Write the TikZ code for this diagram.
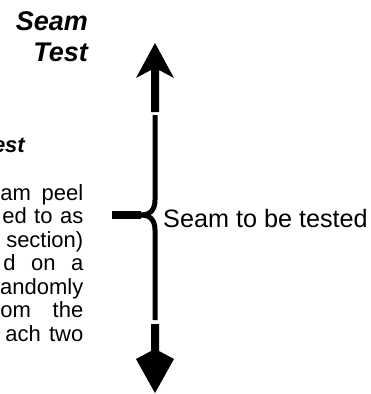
\documentclass[tikz,border=0pt]{standalone}
\usepackage{fontspec}
\setmainfont{Liberation Sans}
\begin{document}
\begin{tikzpicture}[x=1pt,y=-1pt,
  titletext/.style={font=\fontsize{27}{27}\selectfont\bfseries\itshape, anchor=base east, inner sep=0pt},
  subtitle/.style={font=\fontsize{22}{22}\selectfont\bfseries\itshape, anchor=base east, inner sep=0pt},
  bodytext/.style={font=\fontsize{22}{22}\selectfont, anchor=base east, inner sep=0pt},
  labeltext/.style={font=\fontsize{25.2}{25.2}\selectfont, anchor=base west, inner sep=0pt},
  braceline/.style={line width=5pt, line cap=butt},
  barline/.style={line width=8pt, line cap=butt},
  headfill/.style={fill=black}]
\useasboundingbox (0,0) rectangle (370,394);
\clip (0,0) rectangle (370,394);
% titles
\node[titletext] (seam) at (88,30) {Seam};
\node[titletext] (test) at (88,61) {Test};
\node[subtitle] (est) at (25,152) {est};
% body text lines
\node[bodytext] (l1) at (83.5,200) {\makebox[83pt][s]{am peel}};
\node[bodytext] (l2) at (83.5,223.5) {\makebox[81pt][s]{ed to as}};
\node[bodytext] (l3) at (83.5,247) {section)};
\node[bodytext] (l4) at (83.5,270.5) {\makebox[80pt][s]{d on a}};
\node[bodytext] (l5) at (83.5,294) {andomly};
\node[bodytext] (l6) at (83.5,317.5) {\makebox[83pt][s]{om the}};
\node[bodytext] (l7) at (83.5,341) {\makebox[78pt][s]{ach two}};
% label
\node[labeltext] (lab) at (163,227) {Seam to be tested};
% brace coordinates
\coordinate (top) at (155,115);
\coordinate (upper) at (155,200);
\coordinate (tip) at (141,215);
\coordinate (lower) at (155,230);
\coordinate (bot) at (155,320);
\coordinate (barL) at (112,215);
\draw[braceline] (top) -- (upper) .. controls (155,210) and (150,215) .. (tip);
\draw[braceline] (tip) .. controls (150,215) and (155,220) .. (lower) -- (bot);
\draw[barline] (barL) -- (tip);
% up arrow
\coordinate (uptip) at (155,43);
\fill[headfill] (uptip) -- (174,78) -- (159,70) -- (159,112) -- (151,112) -- (151,70) -- (136,78) -- cycle;
% down arrow
\coordinate (dntip) at (155,393);
\fill[headfill] (dntip) -- (174,359) -- (159,351) -- (159,324) -- (151,324) -- (151,351) -- (136,359) -- cycle;
\end{tikzpicture}
\end{document}
